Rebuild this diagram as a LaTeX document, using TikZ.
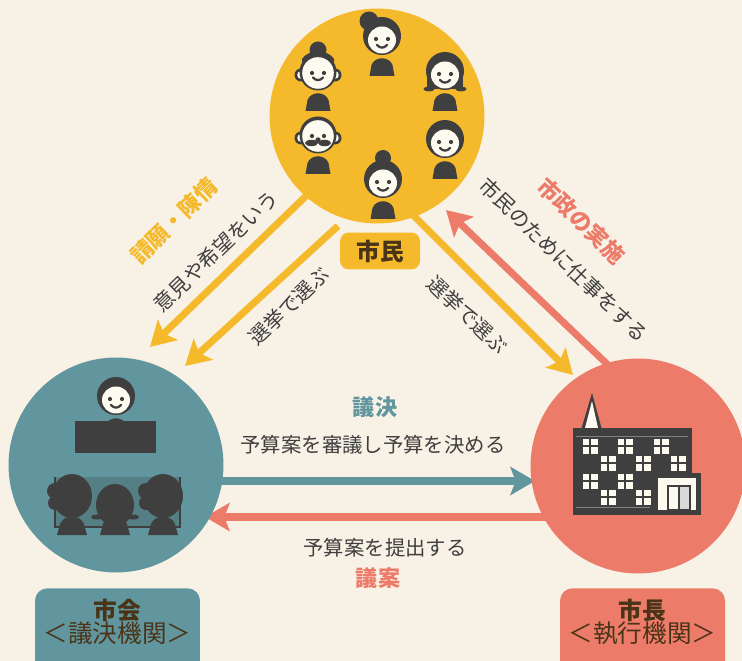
\documentclass[tikz,border=0pt]{standalone}
\usepackage{fontspec}
\newfontfamily\jp{Noto Sans CJK JP}
\usetikzlibrary{arrows.meta, positioning}
\definecolor{bgCream}    {HTML}{F8F2E6}
\definecolor{citYellow}  {HTML}{F5BA2C}
\definecolor{parTeal}    {HTML}{62969E}
\definecolor{tableTeal}  {HTML}{547F84}
\definecolor{mayorSalmon}{HTML}{EC7B69}
\definecolor{iconDark}   {HTML}{3F3F3F}
\definecolor{faceCream}  {HTML}{FDFBEF}
\definecolor{labelBrown} {HTML}{4A3418}

\tikzset{
  hub/.style={circle, minimum size=4.3cm, inner sep=0pt},
  flow/.style={line width=4pt, -{Stealth[length=14pt, width=16pt, inset=3pt]}},
  say/.style={font=\jp\fontsize{11.6}{13}\selectfont, text=iconDark, inner sep=0pt},
  tag/.style={font=\jp\bfseries\fontsize{12.6}{14}\selectfont, inner sep=0pt},
  plate/.style={rounded corners=7pt, minimum width=3.3cm, minimum height=1.8cm, anchor=north},
  % a citizen: body, hair, face, eyes and smile
  person/.pic={
    \fill[iconDark] (-12.5,39) -- (-10.5,28) .. controls (-7,19) and (7,19) .. (10.5,28) -- (12.5,39) -- cycle;
    \fill[iconDark] (0,-1) circle (19);
    \fill[faceCream] (0,3) ellipse (14 and 13.5);
    \fill[iconDark] (-6,2) circle (2.1) (6,2) circle (2.1);
    \draw[iconDark, line width=1.3pt, line cap=round] (-5,8) .. controls (-2,11.5) and (2,11.5) .. (5,8);
  },
  % an older citizen with ears and a thin outline
  elder/.pic={
    \fill[iconDark] (-12.5,39) -- (-10.5,28) .. controls (-7,19) and (7,19) .. (10.5,28) -- (12.5,39) -- cycle;
    \fill[iconDark] (-17,3) circle (6.5) (17,3) circle (6.5);
    \fill[faceCream] (-17,3) circle (3.8) (17,3) circle (3.8);
    \fill[iconDark] (0,0) circle (18.5);
    \fill[faceCream] (0,1) circle (15.8);
    \fill[iconDark] (-6,1) circle (2.1) (6,1) circle (2.1);
  },
}

\begin{document}
\begin{tikzpicture}[x=0.02cm, y=-0.02cm]
  \fill[bgCream] (0,0) rectangle (742,661);
  \useasboundingbox (0,0) rectangle (742,661);

  % arrow ends
  \coordinate (askFrom)    at (306,196);
  \coordinate (askTo)      at (150,347);
  \coordinate (voteLFrom)  at (338,226);
  \coordinate (voteLTo)    at (185,366);
  \coordinate (voteRFrom)  at (410,212);
  \coordinate (voteRTo)    at (573,375);
  \coordinate (serveFrom)  at (608,365);
  \coordinate (serveTo)    at (446,210);
  \coordinate (decideFrom) at (215,481);
  \coordinate (decideTo)   at (535,481);
  \coordinate (billFrom)   at (548,517);
  \coordinate (billTo)     at (205,517);

  \draw[flow, draw=citYellow] (askFrom) -- (askTo);
  \draw[flow, draw=citYellow] (voteLFrom) -- (voteLTo);
  \draw[flow, draw=citYellow] (voteRFrom) -- (voteRTo);
  \draw[flow, draw=mayorSalmon] (serveFrom) -- (serveTo);
  \draw[flow, draw=parTeal] (decideFrom) -- (decideTo);
  \draw[flow, draw=mayorSalmon] (billFrom) -- (billTo);

  % the three bodies
  \node[hub, fill=citYellow]   (shimin) at (377,116) {};
  \node[hub, fill=parTeal]     (shikai) at (116,465) {};
  \node[hub, fill=mayorSalmon] (shicho) at (638,466) {};

  % citizens
  \pic at (382,37) {person};
  \fill[iconDark] (369,21) circle (9.5);
  \fill[iconDark] (427,66) rectangle (463,89);
  \fill[iconDark] (429,89) ellipse (5.5 and 2.5) (461,89) ellipse (5.5 and 2.5);
  \pic at (445,72) {person};
  \pic at (445,140) {person};
  \fill[iconDark] (383,158) circle (8);
  \pic at (383,180) {person};
  \pic at (318,135) {elder};
  \fill[iconDark] (311.5,143) ellipse (6.5 and 3.2) (324.5,143) ellipse (6.5 and 3.2);
  \fill[iconDark] (318,140) circle (2.7);
  \fill[iconDark] (318,50) circle (8.5);
  \pic at (318,72) {elder};
  \fill[iconDark] (302,63) .. controls (308,54) and (328,54) .. (334,63) -- (334,59) .. controls (328,49) and (308,49) .. (302,59) -- cycle;
  \draw[iconDark, line width=1.3pt, line cap=round] (313,77.5) .. controls (316,81) and (320,81) .. (323,77.5);

  % council: speaker, podium, members
  \pic at (116,397) {person};
  \fill[iconDark] (75,421) rectangle (156,453);
  \fill[tableTeal] (55,477) rectangle (180,527);
  \draw[iconDark, line width=1.4pt] (55,477) -- (55,527) -- (180,527) -- (180,477);
  \foreach \hx/\hy in {72/496, 163/496} {
    \fill[iconDark] (\hx-15,535) -- (\hx-12,524) .. controls (\hx-8,514) and (\hx+8,514) .. (\hx+12,524) -- (\hx+15,535) -- cycle;
    \fill[iconDark] (\hx,\hy) ellipse (20 and 22);
    \fill[iconDark] (\hx-17,\hy-5) circle (8) (\hx-17,\hy+7) circle (7);
  }
  \fill[iconDark] (100,535) -- (103,524) .. controls (107,514) and (123,514) .. (127,524) -- (130,535) -- cycle;
  \fill[iconDark] (115,505) ellipse (19 and 21);
  \fill[iconDark] (97,517) ellipse (6 and 2.5) (133,517) ellipse (6 and 2.5);

  % city hall
  \fill[iconDark] (581,430) -- (592,393) -- (602,430) -- cycle;
  \fill[faceCream] (585,428) -- (592,401) -- (598,428) -- cycle;
  \fill[iconDark] (573,428) rectangle (692,515);
  \fill[iconDark] (653,473) rectangle (701,515);
  \draw[gray, line width=0.5pt] (576,436) -- (688,436) (576,507) -- (650,507);
  \fill[faceCream] (658,478) rectangle (696,510);
  \fill[gray!30] (679,486) rectangle (689,510);
  \draw[iconDark, line width=1pt] (668,486) rectangle (690,510) (679,486) -- (679,510);
  \foreach \c/\r in {590/446, 625/446, 661/446, 608/463, 643/463, 678/463, 590/481, 625/481, 608/497, 643/497} {
    \fill[faceCream] (\c-7.5,\r-7.5) rectangle (\c+7.5,\r+7.5);
    \draw[iconDark, line width=0.9pt] (\c,\r-7.5) -- (\c,\r+7.5) (\c-7.5,\r) -- (\c+7.5,\r);
  }

  \node[fill=citYellow, rounded corners=5pt, minimum width=1.6cm, minimum height=0.74cm,
        tag, font=\jp\bfseries\fontsize{13.5}{15}\selectfont, text=labelBrown] (shiminTag) at (380,251) {市民};

  % labels along the arrows
  \node[tag, text=citYellow, rotate=44]   (petition) at (174,221) {請願・陳情};
  \node[say, rotate=44]                   (askText)  at (216,251) {意見や希望をいう};
  \node[say, rotate=44]                   (voteL)    at (289,306) {選挙で選ぶ};
  \node[say, rotate=-44]                  (voteR)    at (468,315) {選挙で選ぶ};
  \node[say, rotate=-44]                  (serve)    at (564,260) {市民のために仕事をする};
  \node[tag, text=mayorSalmon, rotate=-44] (admin)   at (581,221) {市政の実施};
  \node[tag, text=parTeal]                (decide)   at (375,407) {議決};
  \node[say]                              (budget)   at (373,445) {予算案を審議し予算を決める};
  \node[say]                              (submit)   at (385,548) {予算案を提出する};
  \node[tag, text=mayorSalmon]            (bill)     at (378,578) {議案};

  % name plates
  \node[plate, fill=parTeal]     (shikaiPlate) at (117.5,588) {};
  \node[plate, fill=mayorSalmon] (shichoPlate) at (642.5,588) {};
  \node[align=center, text=labelBrown, inner sep=0pt] (shikaiName) at (117.5,622)
    {{\jp\bfseries\fontsize{13.5}{15}\selectfont 市会}\\[-1pt]{\jp\fontsize{14}{16}\selectfont ＜議決機関＞}};
  \node[align=center, text=labelBrown, inner sep=0pt] (shichoName) at (642.5,622)
    {{\jp\bfseries\fontsize{13.5}{15}\selectfont 市長}\\[-1pt]{\jp\fontsize{14}{16}\selectfont ＜執行機関＞}};
\end{tikzpicture}
\end{document}
